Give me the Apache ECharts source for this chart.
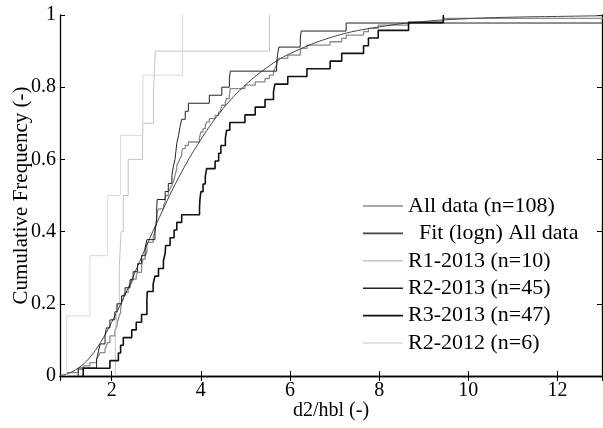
<!DOCTYPE html>
<html lang="en">

<head>
  <meta charset="UTF-8">
  <title>Cumulative Frequency</title>
  <style>
    body { margin: 0; background: #fff; }
  </style>
</head>

<body>
  <div id="main" style="width: 603px;height:428px;"></div>

  <script src="https://cdn.jsdelivr.net/npm/echarts@6/dist/echarts.min.js"></script>
  <script>

  // sorted samples
  let r1_2013 = [2.08, 2.12, 2.17, 2.21, 2.26, 2.37, 2.69, 2.94, 2.98, 5.54];
  let r2_2013 = [1.25, 1.66, 1.70, 1.74, 1.85, 1.88, 1.96, 2.07, 2.12, 2.22,
                 2.30, 2.41, 2.48, 2.58, 2.67, 2.75, 2.79, 2.97, 3.00, 3.01,
                 3.01, 3.02, 3.20, 3.27, 3.35, 3.38, 3.42, 3.44, 3.46, 3.50,
                 3.53, 3.57, 3.65, 3.72, 4.19, 4.47, 4.64, 4.66, 5.70, 5.72,
                 5.75, 6.23, 6.25, 7.26, 15.0];
  let r3_2013 = [1.36, 1.96, 2.15, 2.20, 2.26, 2.45, 2.55, 2.67, 2.79, 2.79,
                 2.80, 2.93, 2.97, 3.05, 3.16, 3.20, 3.21, 3.31, 3.40, 3.46,
                 3.57, 3.97, 3.98, 4.00, 4.05, 4.10, 4.13, 4.32, 4.40, 4.45,
                 4.55, 4.58, 4.65, 4.99, 5.22, 5.44, 5.63, 5.66, 5.95, 6.38,
                 6.90, 7.16, 7.65, 7.76, 7.98, 8.66, 9.44];
  let r2_2012 = [0.99, 1.51, 1.91, 2.20, 2.70, 3.59];

  // fitted lognormal curve, read as points
  let fitX = [0.84, 1.0, 1.25, 1.5, 1.75, 2.0, 2.25, 2.5, 2.75, 3.0, 3.5, 4.0,
              4.5, 5.0, 5.5, 6.0, 7.0, 8.0, 9.0, 10.0, 11.0, 12.0, 13.0];
  let fitY = [0.002, 0.006, 0.022, 0.05, 0.093, 0.149, 0.212, 0.281, 0.352, 0.421,
              0.549, 0.655, 0.741, 0.806, 0.856, 0.893, 0.941, 0.967, 0.982, 0.99,
              0.994, 0.996, 0.998];

  let allData = r1_2013.concat(r2_2013, r3_2013, r2_2012).sort((a, b) => a - b);

  // empirical cdf as step points
  function ecdf(arr) {
    let s = arr.slice().sort((a, b) => a - b);
    let pts = [[s[0], 0]];
    for (let i = 0; i < s.length; i++) {
      pts.push([s[i], (i + 1) / s.length]);
    }
    return pts;
  }

  let font = 'Liberation Serif';

  function stepSeries(name, arr, color, width) {
    return {
      name: name,
      type: 'line',
      step: 'end',
      symbol: 'none',
      data: ecdf(arr),
      lineStyle: { color: color, width: width },
      itemStyle: { color: color }
    };
  }

  let myChart = echarts.init(document.getElementById('main'));
  let axisLine = { show: true, lineStyle: { color: '#000', width: 1.3 } };
  let tick = { show: true, inside: true, length: 5, lineStyle: { color: '#000' } };

  let option = {
    animation: false,
    backgroundColor: '#fff',
    textStyle: { fontFamily: font },
    grid: { left: 60, top: 15, right: 1, bottom: 52, outerBoundsMode: 'none', containLabel: false },
    legend: {
      orient: 'vertical',
      left: 363,
      top: 195,
      padding: 0,
      icon: 'rect',
      itemWidth: 40,
      itemHeight: 1.6,
      itemGap: 5.4,
      textStyle: { fontFamily: font, fontSize: 22, color: '#000' },
      data: ['All data (n=108)', '  Fit (logn) All data', 'R1-2013 (n=10)',
             'R2-2013 (n=45)', 'R3-2013 (n=47)', 'R2-2012 (n=6)']
    },
    xAxis: [{
      type: 'value',
      min: 0.84,
      max: 13,
      name: 'd2/hbl (-)',
      nameLocation: 'middle',
      nameGap: 25,
      nameMoveOverlap: false,
      nameTextStyle: { fontFamily: font, fontSize: 20, color: '#000' },
      axisLine: axisLine,
      axisTick: tick,
      splitLine: { show: false },
      axisLabel: {
        fontFamily: font, fontSize: 20, color: '#000', margin: 5,
        formatter: v => (v % 2 === 0 ? String(v) : '')
      }
    }, {
      type: 'value',
      position: 'top',
      min: 0.84,
      max: 13,
      axisLine: axisLine,
      axisTick: tick,
      splitLine: { show: false },
      axisLabel: { show: false }
    }],
    yAxis: [{
      type: 'value',
      min: 0,
      max: 1,
      interval: 0.2,
      name: 'Cumulative Frequency (-)',
      nameLocation: 'middle',
      nameGap: 28,
      nameMoveOverlap: false,
      nameTextStyle: { fontFamily: font, fontSize: 21, color: '#000' },
      axisLine: axisLine,
      axisTick: tick,
      splitLine: { show: false },
      axisLabel: { fontFamily: font, fontSize: 20, color: '#000', margin: 4 }
    }, {
      type: 'value',
      position: 'right',
      min: 0,
      max: 1,
      interval: 0.2,
      axisLine: axisLine,
      axisTick: tick,
      splitLine: { show: false },
      axisLabel: { show: false }
    }],
    series: [
      stepSeries('All data (n=108)', allData, '#8a8a8a', 1.3),
      {
        name: '  Fit (logn) All data',
        type: 'line',
        symbol: 'none',
        smooth: 0.4,
        data: fitX.map((x, i) => [x, fitY[i]]),
        lineStyle: { color: '#444', width: 1 },
        itemStyle: { color: '#444' }
      },
      stepSeries('R1-2013 (n=10)', r1_2013, '#c4c4c4', 1),
      stepSeries('R2-2013 (n=45)', r2_2013, '#222', 1),
      stepSeries('R3-2013 (n=47)', r3_2013, '#111', 1.6),
      stepSeries('R2-2012 (n=6)', r2_2012, '#dadada', 1)
    ]
  };

  myChart.setOption(option);
  </script>
</body>

</html>
